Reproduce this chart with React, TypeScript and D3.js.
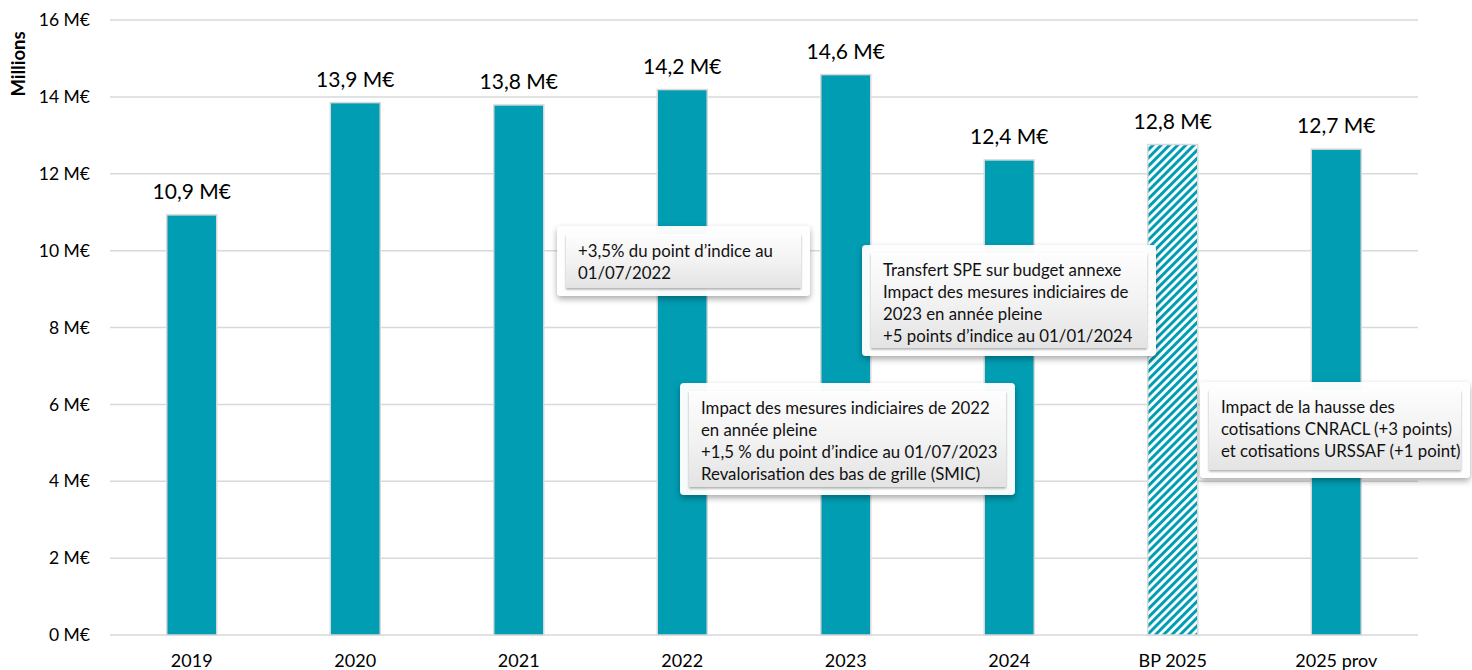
import React from "react";
import * as d3 from "d3";

const categories = ["2019", "2020", "2021", "2022", "2023", "2024", "BP 2025", "2025 prov"];
const values = [10.93, 13.85, 13.79, 14.19, 14.58, 12.36, 12.76, 12.64];
const valueLabels = ["10,9 M€", "13,9 M€", "13,8 M€", "14,2 M€", "14,6 M€", "12,4 M€", "12,8 M€", "12,7 M€"];
const hatched = [false, false, false, false, false, false, true, false];
const yTicks = [0, 2, 4, 6, 8, 10, 12, 14, 16];

const annotations = [
  { x: 557, y: 226, w: 253, h: 70, lines: ["+3,5% du point d’indice au", "01/07/2022"] },
  { x: 862, y: 245, w: 294, h: 111, lines: ["Transfert SPE sur budget annexe", "Impact des mesures indiciaires de", "2023 en année pleine", "+5 points d’indice au 01/01/2024"] },
  { x: 680, y: 383, w: 335, h: 112, lines: ["Impact des mesures indiciaires de 2022", "en année pleine", "+1,5 % du point d’indice au 01/07/2023", "Revalorisation des bas de grille (SMIC)"] },
  { x: 1200, y: 382, w: 270, h: 96, lines: ["Impact de la hausse des", "cotisations CNRACL (+3 points)", "et cotisations URSSAF (+1 point)"] },
];

const W = 1472, H = 670;
const left = 110, right = 1418, top = 20, bottom = 635;
const FONT = "Lato, 'Open Sans', sans-serif";
const TEAL = "#009DB3";

export default function App() {
  const x = d3.scaleBand<string>().domain(categories).range([left, right]).paddingInner(0).paddingOuter(0);
  const y = d3.scaleLinear().domain([0, 16]).range([bottom, top]);
  const barW = 50;

  return (
    <svg width={W} height={H} style={{ position: "fixed", left: 0, top: 0, background: "#fff" }} fontFamily={FONT}>
      <defs>
        <pattern id="hatch" patternUnits="userSpaceOnUse" width={5.8} height={5.8} patternTransform="rotate(45)">
          <rect width={5.8} height={5.8} fill="#ffffff" />
          <rect width={3} height={5.8} fill={TEAL} />
        </pattern>
        <linearGradient id="btn" x1="0" y1="0" x2="0" y2="1">
          <stop offset="0" stopColor="#ffffff" />
          <stop offset="0.5" stopColor="#f4f4f4" />
          <stop offset="1" stopColor="#e4e4e4" />
        </linearGradient>
        <filter id="shadow" x="-10%" y="-20%" width="120%" height="150%">
          <feDropShadow dx="0" dy="3" stdDeviation="3" floodColor="#000" floodOpacity="0.35" />
        </filter>
        <filter id="inner" x="-5%" y="-10%" width="110%" height="130%">
          <feDropShadow dx="0" dy="1.5" stdDeviation="1" floodColor="#000" floodOpacity="0.35" />
        </filter>
      </defs>

      {yTicks.map((t) => (
        <line key={t} x1={left} x2={right} y1={y(t)} y2={y(t)} stroke="#d9d9d9" strokeWidth={1.5} />
      ))}

      {yTicks.map((t) => (
        <text key={"l" + t} x={90} y={y(t)} dy="0.35em" textAnchor="end" fontSize={17.5} fill="#000">
          {t} M€
        </text>
      ))}

      <text transform={`translate(25,64) rotate(-90)`} textAnchor="middle" fontSize={18.5} fontWeight="bold" fill="#000">
        Millions
      </text>

      {categories.map((c, i) => {
        const cx = (x(c) as number) + x.bandwidth() / 2;
        return (
          <g key={c}>
            <rect
              x={cx - barW / 2}
              y={y(values[i])}
              width={barW}
              height={bottom - y(values[i])}
              fill={hatched[i] ? "url(#hatch)" : TEAL}
              stroke="#d9d9d9"
              strokeWidth={1.5}
            />
            <text x={cx} y={y(values[i]) - 16} textAnchor="middle" fontSize={21} fill="#000">
              {valueLabels[i]}
            </text>
            <text x={cx} y={661} dy="0.35em" textAnchor="middle" fontSize={18} fill="#000">
              {c}
            </text>
          </g>
        );
      })}

      {annotations.map((a, i) => (
        <g key={i}>
          <rect x={a.x} y={a.y} width={a.w} height={a.h} rx={4} fill="#ffffff" fillOpacity={0.96} filter="url(#shadow)" />
          <rect x={a.x + 9} y={a.y + 8} width={a.w - 18} height={a.h - 16} fill="url(#btn)" fillOpacity={0.95} filter="url(#inner)" />
          {a.lines.map((l, j) => (
            <text key={j} x={a.x + 21} y={a.y + 25 + j * 22} dy="0.35em" fontSize={16.8} fill="#111">
              {l}
            </text>
          ))}
        </g>
      ))}
    </svg>
  );
}
